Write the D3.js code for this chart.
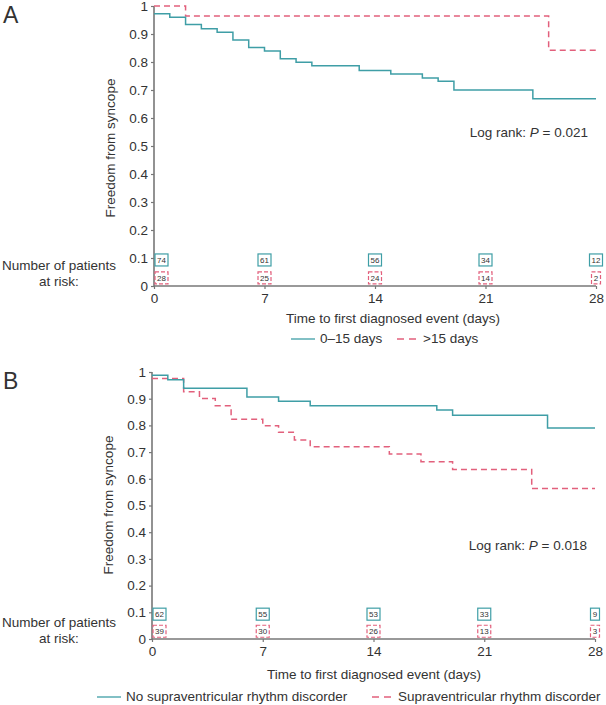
<!DOCTYPE html>
<html><head><meta charset="utf-8">
<script src="https://cdn.jsdelivr.net/npm/d3@7"></script>
<style>body{margin:0;background:#fff}text{font-family:"Liberation Sans",Arial,sans-serif;fill:#333}</style>
</head><body><svg id="c" width="606" height="705"></svg>
<script>
// Panel A data
const aTimesTeal = [0,1,2,3,4,5,6,7,8,9,10,13,15,17,18,19,24,28];
const aSurvTeal  = [0.972,0.960,0.934,0.919,0.906,0.879,0.852,0.839,0.812,0.799,0.787,0.770,0.757,0.743,0.731,0.700,0.669,0.669];
const aTimesRed  = [0,2,25,28];
const aSurvRed   = [1.0,0.964,0.842,0.842];
const aRiskTeal  = [74,61,56,34,12];
const aRiskRed   = [28,25,24,14,2];
// Panel B data
const bTimesTeal = [0,1,2,6,8,10,18,19,25,28];
const bSurvTeal  = [0.988,0.971,0.939,0.906,0.890,0.874,0.858,0.838,0.790,0.790];
const bTimesRed  = [0,2,3,4,5,7,8,9,10,15,17,19,24,28];
const bSurvRed   = [0.976,0.926,0.901,0.874,0.823,0.799,0.774,0.745,0.720,0.693,0.664,0.635,0.564,0.564];
const bRiskTeal  = [62,55,53,33,9];
const bRiskRed   = [39,30,26,13,3];
const riskDays   = [0,7,14,21,28];
const xTicks     = [0,7,14,21,28];
const yTicks     = [0,0.1,0.2,0.3,0.4,0.5,0.6,0.7,0.8,0.9,1];

const TEAL="#3f9ea6", RED="#e2607c";
const svg=d3.select("#c");

function panel(o){
  const g=svg.append("g");
  const x=d3.scaleLinear().domain([0,28]).range(o.xr);
  const y=d3.scaleLinear().domain([0,1]).range(o.yr);
  // letter
  g.append("text").attr("x",3).attr("y",o.letterY).style("font-size","23px").text(o.letter);
  // axes
  const ya=d3.axisLeft(y).tickValues(yTicks).tickSize(3).tickPadding(3)
    .tickFormat(d=>d===0?"0":d===1?"1":d3.format(".1f")(d));
  const yg=g.append("g").attr("transform",`translate(${o.xr[0]},0)`).call(ya);
  const xa=d3.axisBottom(x).tickValues(xTicks).tickSize(3).tickPadding(4);
  const xg=g.append("g").attr("transform",`translate(0,${o.yr[0]})`).call(xa);
  [yg,xg].forEach(a=>{
    a.select(".domain").attr("stroke","#777").attr("stroke-width",1.6);
    a.selectAll(".tick line").attr("stroke","#777").attr("stroke-width",1.2);
    a.selectAll("text").style("font-size","13.5px").attr("fill","#333").style("font-family","Liberation Sans, Arial, sans-serif");
  });
  yg.select(".domain").attr("d",`M0,${o.yr[0]}V${o.yr[1]}`);
  xg.select(".domain").attr("d",`M${o.xr[0]},0H${o.xr[1]}`);
  // y label
  g.append("text").attr("transform",`translate(${o.yLabX},${o.yLabY}) rotate(-90)`)
    .attr("text-anchor","middle").style("font-size","13.5px").text("Freedom from syncope");
  // x label
  g.append("text").attr("x",o.xLabX).attr("y",o.xLabY).attr("text-anchor","middle")
    .style("font-size","13.5px").text("Time to first diagnosed event (days)");
  // at risk label
  g.append("text").attr("x",59).attr("y",o.nY).attr("text-anchor","middle").style("font-size","13.5px").text("Number of patients");
  g.append("text").attr("x",59).attr("y",o.nY+16).attr("text-anchor","middle").style("font-size","13.5px").text("at risk:");
  // curves
  const line=d3.line().x(d=>x(d[0])).y(d=>y(d[1])).curve(d3.curveStepAfter);
  g.append("path").datum(d3.zip(o.tR,o.sR)).attr("d",line).attr("fill","none")
    .attr("stroke",RED).attr("stroke-width",1.5).attr("stroke-dasharray","6,4");
  g.append("path").datum(d3.zip(o.tT,o.sT)).attr("d",line).attr("fill","none")
    .attr("stroke",TEAL).attr("stroke-width",1.5);
  // risk boxes
  function boxes(vals,yv,col,dash){
    vals.forEach((v,i)=>{
      const w=String(v).length>1?13:9, h=12;
      let cx=x(riskDays[i]);
      cx=Math.max(cx,o.xr[0]+w/2+1);
      const cy=y(yv);
      g.append("rect").attr("x",cx-w/2).attr("y",cy-h/2).attr("width",w).attr("height",h)
        .attr("fill","#fff").attr("stroke",col).attr("stroke-width",1.2)
        .attr("stroke-dasharray",dash?"4,2":null);
      g.append("text").attr("x",cx).attr("y",cy+3).attr("text-anchor","middle")
        .style("font-size","8px").attr("fill","#444").text(v);
    });
  }
  boxes(o.rT,0.093,TEAL,false);
  boxes(o.rR,0.029,RED,true);
  // log rank
  const lr=g.append("text").attr("x",o.xr[1]-8).attr("y",o.lrY).attr("text-anchor","end").style("font-size","13.5px");
  lr.append("tspan").text("Log rank: ");
  lr.append("tspan").style("font-style","italic").text("P");
  lr.append("tspan").text(" = "+o.p);
  // legend
  const lg=o.legend;
  g.append("line").attr("x1",lg.x1).attr("x2",lg.x1+24).attr("y1",lg.y-4).attr("y2",lg.y-4).attr("stroke",TEAL).attr("stroke-width",1.3);
  g.append("text").attr("x",lg.x1+29).attr("y",lg.y).style("font-size","13.5px").text(lg.t1);
  g.append("line").attr("x1",lg.x2).attr("x2",lg.x2+20).attr("y1",lg.y-4).attr("y2",lg.y-4).attr("stroke",RED).attr("stroke-width",1.3).attr("stroke-dasharray","7,5");
  g.append("text").attr("x",lg.x2+26).attr("y",lg.y).style("font-size","13.5px").text(lg.t2);
}

panel({letter:"A",letterY:23,xr:[154,596],yr:[286,6],tT:aTimesTeal,sT:aSurvTeal,tR:aTimesRed,sR:aSurvRed,
  rT:aRiskTeal,rR:aRiskRed,yLabX:115,yLabY:148,xLabX:393,xLabY:323,nY:270,lrY:137,p:"0.021",
  legend:{x1:291,x2:397,y:343,t1:"0–15 days",t2:">15 days"}});
panel({letter:"B",letterY:389,xr:[152,595],yr:[639,372],tT:bTimesTeal,sT:bSurvTeal,tR:bTimesRed,sR:bSurvRed,
  rT:bRiskTeal,rR:bRiskRed,yLabX:113,yLabY:505,xLabX:374,xLabY:679,nY:627,lrY:550,p:"0.018",
  legend:{x1:97,x2:372,y:701,t1:"No supraventricular rhythm discorder",t2:"Supraventricular rhythm discorder"}});
</script></body></html>
